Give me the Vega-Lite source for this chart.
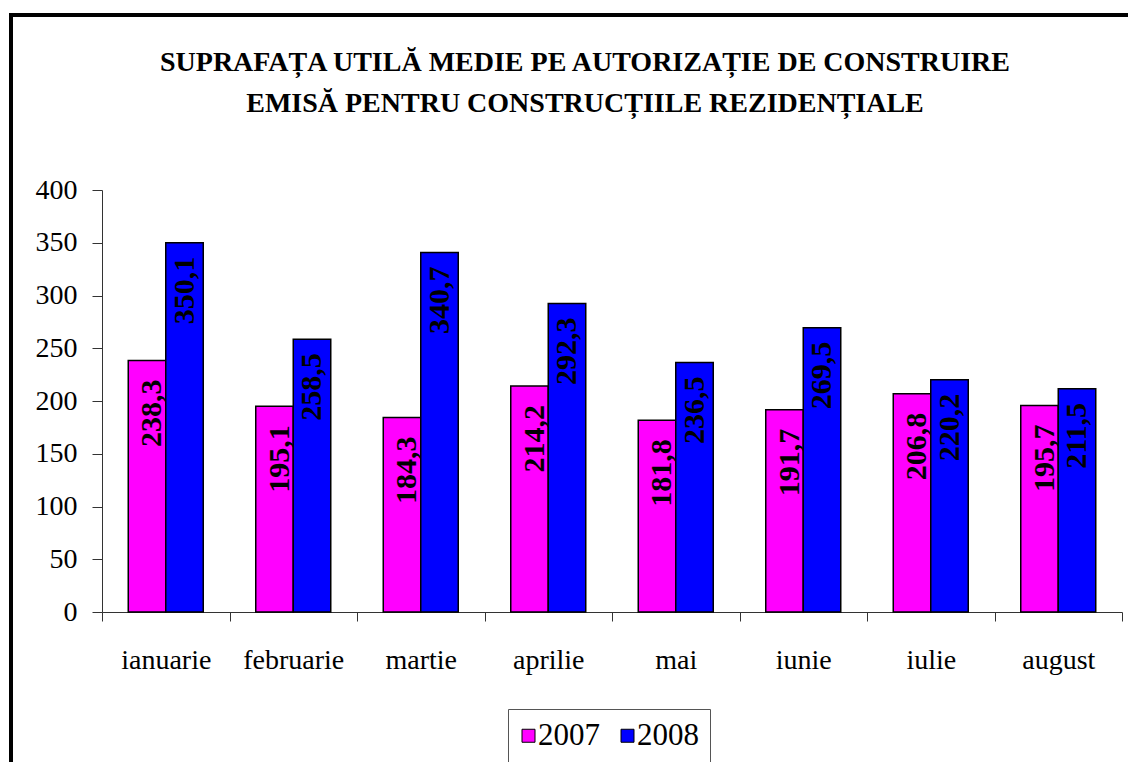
{
  "$schema": "https://vega.github.io/schema/vega-lite/v6.json",
  "width": 1148,
  "height": 760,
  "autosize": {"type": "none"},
  "padding": {"left": 11, "top": 15, "right": -31, "bottom": -13},
  "background": "white",
  "config": {
    "view": {"stroke": "black", "strokeWidth": 4},
    "font": "Liberation Serif",
    "locale": {"number": {"decimal": ",", "thousands": ".", "grouping": [3], "currency": ["", ""]}}
  },
  "title": {
    "text": ["SUPRAFAȚA UTILĂ MEDIE PE AUTORIZAȚIE DE CONSTRUIRE", "EMISĂ PENTRU CONSTRUCȚIILE REZIDENȚIALE"],
    "font": "Liberation Serif",
    "fontSize": 28,
    "fontWeight": "bold",
    "color": "black",
    "anchor": "middle",
    "frame": "group",
    "baseline": "top",
    "lineHeight": 41,
    "offset": -103
  },
  "data": {
    "values": [
      {"month": "ianuarie", "year": "2007", "value": 238.3},
      {"month": "ianuarie", "year": "2008", "value": 350.1},
      {"month": "februarie", "year": "2007", "value": 195.1},
      {"month": "februarie", "year": "2008", "value": 258.5},
      {"month": "martie", "year": "2007", "value": 184.3},
      {"month": "martie", "year": "2008", "value": 340.7},
      {"month": "aprilie", "year": "2007", "value": 214.2},
      {"month": "aprilie", "year": "2008", "value": 292.3},
      {"month": "mai", "year": "2007", "value": 181.8},
      {"month": "mai", "year": "2008", "value": 236.5},
      {"month": "iunie", "year": "2007", "value": 191.7},
      {"month": "iunie", "year": "2008", "value": 269.5},
      {"month": "iulie", "year": "2007", "value": 206.8},
      {"month": "iulie", "year": "2008", "value": 220.2},
      {"month": "august", "year": "2007", "value": 195.7},
      {"month": "august", "year": "2008", "value": 211.5}
    ]
  },
  "encoding": {
    "x": {
      "field": "month",
      "type": "nominal",
      "sort": ["ianuarie", "februarie", "martie", "aprilie", "mai", "iunie", "iulie", "august"],
      "scale": {"range": [91, 1111], "paddingInner": 0, "paddingOuter": 0},
      "axis": {
        "title": null,
        "orient": "bottom",
        "offset": -163,
        "tickBand": "extent",
        "tickSize": 9,
        "tickColor": "#333",
        "domainColor": "#333",
        "labelAngle": 0,
        "labelFont": "Liberation Serif",
        "labelFontSize": 28,
        "labelColor": "black",
        "labelPadding": 25,
        "grid": false
      }
    },
    "xOffset": {
      "field": "year",
      "type": "nominal",
      "scale": {"paddingInner": 0, "paddingOuter": 0.7}
    },
    "y": {
      "field": "value",
      "type": "quantitative",
      "scale": {"domain": [0, 400], "range": [597, 175], "nice": false, "zero": true},
      "axis": {
        "title": null,
        "orient": "left",
        "offset": -91,
        "values": [0, 50, 100, 150, 200, 250, 300, 350, 400],
        "format": "d",
        "tickSize": 10,
        "tickColor": "#333",
        "domainColor": "#333",
        "labelFont": "Liberation Serif",
        "labelFontSize": 28,
        "labelColor": "black",
        "labelPadding": 15,
        "grid": false
      }
    }
  },
  "layer": [
    {
      "mark": {"type": "bar", "stroke": "black", "strokeWidth": 1.5},
      "encoding": {
        "color": {
          "field": "year",
          "type": "nominal",
          "scale": {"domain": ["2007", "2008"], "range": ["#FF00FF", "#0000FF"]},
          "legend": {
            "title": null,
            "orient": "none",
            "legendX": 497,
            "legendY": 694,
            "direction": "horizontal",
            "symbolType": "square",
            "symbolSize": 169,
            "symbolStrokeColor": "black",
            "symbolStrokeWidth": 1,
            "symbolOffset": -6,
            "labelFont": "Liberation Serif",
            "labelFontSize": 31,
            "labelColor": "black",
            "labelOffset": -6,
            "columnPadding": 18,
            "padding": 11,
            "strokeColor": "#555",
            "fillColor": "white"
          }
        }
      }
    },
    {
      "transform": [{"filter": "datum.year == '2007'"}],
      "mark": {"type": "text", "angle": 270, "align": "right", "baseline": "middle", "dx": -19, "dy": 5, "font": "Liberation Serif", "fontSize": 30, "fontWeight": "bold", "color": "black"},
      "encoding": {
        "text": {"field": "value", "type": "quantitative", "format": ".1f"}
      }
    },
    {
      "transform": [{"filter": "datum.year == '2008'"}],
      "mark": {"type": "text", "angle": 270, "align": "right", "baseline": "middle", "dx": -14, "dy": 0, "font": "Liberation Serif", "fontSize": 30, "fontWeight": "bold", "color": "black"},
      "encoding": {
        "text": {"field": "value", "type": "quantitative", "format": ".1f"}
      }
    }
  ]
}
